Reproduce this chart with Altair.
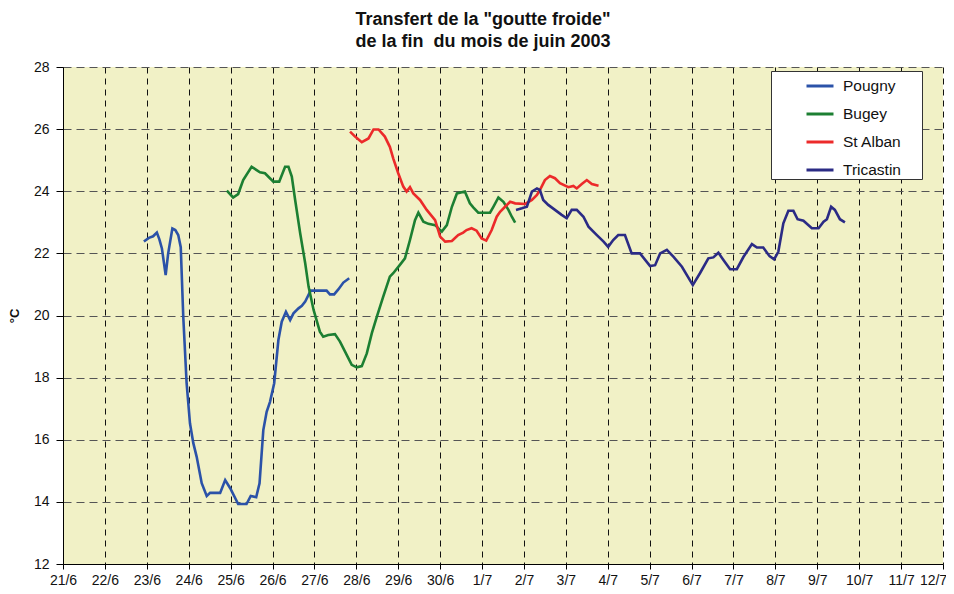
import altair as alt
import pandas as pd

# x in days since 21/6
x_labels = ["21/6", "22/6", "23/6", "24/6", "25/6", "26/6", "27/6", "28/6", "29/6", "30/6",
            "1/7", "2/7", "3/7", "4/7", "5/7", "6/7", "7/7", "8/7", "9/7", "10/7", "11/7", "12/7"]
series_names = ["Pougny", "Bugey", "St Alban", "Tricastin"]
series_colors = ["#2B52A8", "#1C7F32", "#EC2A2A", "#2B2B85"]

pougny_day = [1.93, 2.05, 2.15, 2.24, 2.30, 2.36, 2.45, 2.51, 2.61, 2.68, 2.75, 2.81, 2.87, 2.95, 3.03,
              3.11, 3.19, 3.31, 3.43, 3.51, 3.75, 3.87, 3.99, 4.18, 4.38, 4.48, 4.61, 4.69, 4.78,
              4.86, 4.94, 5.04, 5.14, 5.22, 5.32, 5.42, 5.50, 5.62, 5.70, 5.78, 5.91, 6.29, 6.37,
              6.47, 6.57, 6.69, 6.83]
pougny_temp = [22.38, 22.50, 22.55, 22.67, 22.45, 22.16, 21.30, 22.00, 22.80, 22.75, 22.59, 22.20, 19.96,
               17.82, 16.53, 15.89, 15.45, 14.60, 14.19, 14.29, 14.29, 14.70, 14.44, 13.93, 13.93,
               14.19, 14.15, 14.60, 16.31, 16.90, 17.22, 17.82, 19.21, 19.80, 20.12, 19.85, 20.07,
               20.23, 20.31, 20.45, 20.80, 20.80, 20.68, 20.68, 20.84, 21.06, 21.20]

bugey_day = [3.91, 4.06, 4.18, 4.30, 4.50, 4.70, 4.82, 5.02, 5.16, 5.30, 5.38, 5.46, 5.54, 5.66, 5.78,
             5.86, 5.98, 6.13, 6.21, 6.33, 6.49, 6.61, 6.77, 6.89, 7.01, 7.13, 7.25, 7.37, 7.49,
             7.64, 7.80, 7.88, 8.04, 8.16, 8.28, 8.40, 8.48, 8.60, 8.72, 8.88, 9.04, 9.16, 9.28,
             9.40, 9.59, 9.71, 9.79, 9.91, 10.19, 10.27, 10.39, 10.51, 10.63, 10.71, 10.79]
bugey_temp = [24.02, 23.80, 23.91, 24.36, 24.79, 24.61, 24.58, 24.31, 24.31, 24.79, 24.79, 24.47, 23.72,
              22.65, 21.68, 20.93, 20.18, 19.48, 19.32, 19.37, 19.40, 19.16, 18.73, 18.41, 18.33,
              18.37, 18.78, 19.43, 19.96, 20.60, 21.25, 21.36, 21.63, 21.84, 22.43, 23.07, 23.31,
              23.02, 22.95, 22.91, 22.70, 22.91, 23.50, 23.93, 23.99, 23.61, 23.48, 23.31, 23.31,
              23.50, 23.80, 23.66, 23.40, 23.18, 22.99]

stalban_day = [6.85, 6.97, 7.13, 7.29, 7.41, 7.53, 7.68, 7.80, 7.88, 8.00, 8.12, 8.20, 8.28, 8.36, 8.52,
               8.68, 8.88, 9.00, 9.12, 9.28, 9.43, 9.55, 9.63, 9.75, 9.87, 9.99, 10.10, 10.23, 10.35,
               10.43, 10.55, 10.67, 10.79, 11.03, 11.19, 11.31, 11.38, 11.50, 11.62, 11.74, 11.86,
               12.06, 12.18, 12.26, 12.38, 12.50, 12.62, 12.78]
stalban_temp = [25.92, 25.76, 25.58, 25.70, 25.99, 25.99, 25.76, 25.43, 25.06, 24.58, 24.15, 23.99, 24.13,
                23.93, 23.72, 23.40, 23.07, 22.54, 22.38, 22.40, 22.59, 22.67, 22.75, 22.81, 22.73,
                22.48, 22.41, 22.75, 23.18, 23.34, 23.50, 23.66, 23.61, 23.59, 23.72, 23.88, 24.04,
                24.36, 24.49, 24.42, 24.26, 24.13, 24.17, 24.09, 24.23, 24.36, 24.23, 24.18]

tricastin_day = [10.81, 10.95, 11.07, 11.19, 11.31, 11.38, 11.46, 11.58, 11.74, 11.90, 12.02, 12.14,
                 12.26, 12.42, 12.54, 12.74, 12.90, 13.01, 13.13, 13.25, 13.41, 13.57, 13.77, 14.01,
                 14.13, 14.25, 14.41, 14.57, 14.77, 15.03, 15.20, 15.40, 15.52, 15.64, 15.76, 15.92,
                 16.08, 16.24, 16.44, 16.56, 16.71, 16.86, 16.97, 17.07, 17.19, 17.31, 17.43, 17.53,
                 17.67, 17.87, 18.03, 18.15, 18.23, 18.33, 18.42, 18.54, 18.66]
tricastin_temp = [23.40, 23.45, 23.50, 23.99, 24.09, 24.04, 23.72, 23.56, 23.40, 23.24, 23.13, 23.40,
                  23.40, 23.18, 22.86, 22.59, 22.38, 22.21, 22.43, 22.59, 22.59, 22.00, 22.00, 21.59,
                  21.62, 22.00, 22.11, 21.89, 21.57, 20.98, 21.36, 21.84, 21.87, 22.02, 21.79, 21.49,
                  21.49, 21.89, 22.30, 22.19, 22.19, 21.91, 21.81, 22.05, 22.97, 23.37, 23.37, 23.10,
                  23.05, 22.81, 22.81, 23.02, 23.10, 23.50, 23.40, 23.10, 23.00]

rows = []
for name, days, temps in [("Pougny", pougny_day, pougny_temp), ("Bugey", bugey_day, bugey_temp),
                          ("St Alban", stalban_day, stalban_temp),
                          ("Tricastin", tricastin_day, tricastin_temp)]:
    for d, t in zip(days, temps):
        rows.append({"serie": name, "day": d, "temp": t})
df = pd.DataFrame(rows)

label_expr = "[" + ",".join(f"'{l}'" for l in x_labels) + "][datum.value]"

chart = alt.Chart(df).mark_line(strokeWidth=2.6).encode(
    x=alt.X("day:Q", scale=alt.Scale(domain=[0, 21], nice=False),
            axis=alt.Axis(values=list(range(22)), labelExpr=label_expr, title=None,
                          labelOverlap=False, labelFlush=False,
                          labelOffset={"condition": {"test": "datum.value == 21", "value": -10},
                                       "value": 0},
                          grid=True, gridColor="#111111", gridDash=[6, 5], gridWidth=1,
                          domainColor="#000000", tickColor="#000000", tickSize=5,
                          labelFontSize=14, labelColor="#111111", labelPadding=4)),
    y=alt.Y("temp:Q", scale=alt.Scale(domain=[12, 28], nice=False),
            axis=alt.Axis(values=list(range(12, 29, 2)), title="°C", titleFontSize=13,
                          titleFontWeight="bold", titlePadding=12, titleColor="#111111",
                          labelOverlap=False, labelFlush=False,
                          grid=True, gridColor="#555555", gridDash=[8, 5], gridWidth=1.2,
                          domainColor="#000000", tickColor="#000000", tickSize=7,
                          labelFontSize=14, labelColor="#111111", labelPadding=7)),
    color=alt.Color("serie:N", scale=alt.Scale(domain=series_names, range=series_colors),
                    sort=series_names,
                    legend=alt.Legend(title=None, orient="none", legendX=708, legendY=4,
                                      fillColor="#FFFFFF", strokeColor="#333333",
                                      padding=0, symbolType="stroke", symbolSize=729,
                                      symbolStrokeWidth=3, symbolOffset=34, rowPadding=4,
                                      labelOffset=8, labelFontSize=15.5, labelColor="#111111",
                                      labelExpr="datum.label + '\u2002\u2800'")),
    order=alt.Order("day:Q"),
).properties(
    width=880,
    height=497,
    title=alt.TitleParams(["Transfert de la \"goutte froide\"", "de la fin\u00a0 du mois de juin 2003"],
                          fontSize=18, fontWeight="bold", color="#111111", anchor="middle",
                          dx=-20, offset=9, lineHeight=22),
    autosize=alt.AutoSizeParams(type="none"),
    padding={"left": 55, "top": 59, "right": 3, "bottom": 26},
).configure(
    font="Liberation Sans",
).configure_view(
    fill="#F1F1C6", stroke=None,
)

chart.save("out.html", embed_options={"renderer": "svg", "actions": False})
